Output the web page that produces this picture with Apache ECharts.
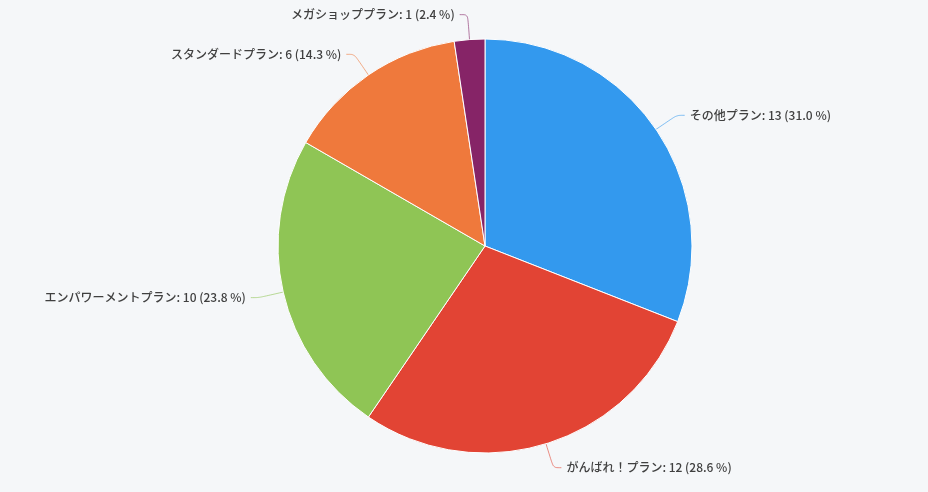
<!DOCTYPE html>
<html><head><meta charset="utf-8">
<script src="https://cdn.jsdelivr.net/npm/echarts@6/dist/echarts.min.js"></script>
<style>html,body{margin:0;padding:0;background:#f5f7f9;}#c{width:928px;height:492px;}</style>
</head><body><div id="c"></div>
<script>
const categories = ["その他プラン", "がんばれ！プラン", "エンパワーメントプラン", "スタンダードプラン", "メガショッププラン"];
const values = [13, 12, 10, 6, 1];
const colors = ["#3399ee", "#e24434", "#8fc555", "#ef793c", "#862467"];
const total = values.reduce((a, b) => a + b, 0);
const chart = echarts.init(document.getElementById('c'));
chart.setOption({
  backgroundColor: '#f5f7f9',
  animation: false,
  series: [{
    type: 'pie',
    center: [485, 246],
    radius: 207,
    startAngle: 90,
    clockwise: true,
    data: categories.map((n, i) => ({ name: n, value: values[i], itemStyle: { color: colors[i] } })),
    itemStyle: { borderColor: '#ffffff', borderWidth: 1 },
    label: {
      formatter: p => p.name + ': ' + p.value + ' (' + (p.value / total * 100).toFixed(1) + ' %)',
      color: '#404040',
      fontSize: 12,
      fontWeight: 500,
      fontFamily: '"Noto Sans CJK JP", sans-serif'
    },
    labelLine: { length: 25, length2: 8, smooth: 0.3, lineStyle: { width: 1, opacity: 0.6 } }
  }]
});
</script></body></html>
